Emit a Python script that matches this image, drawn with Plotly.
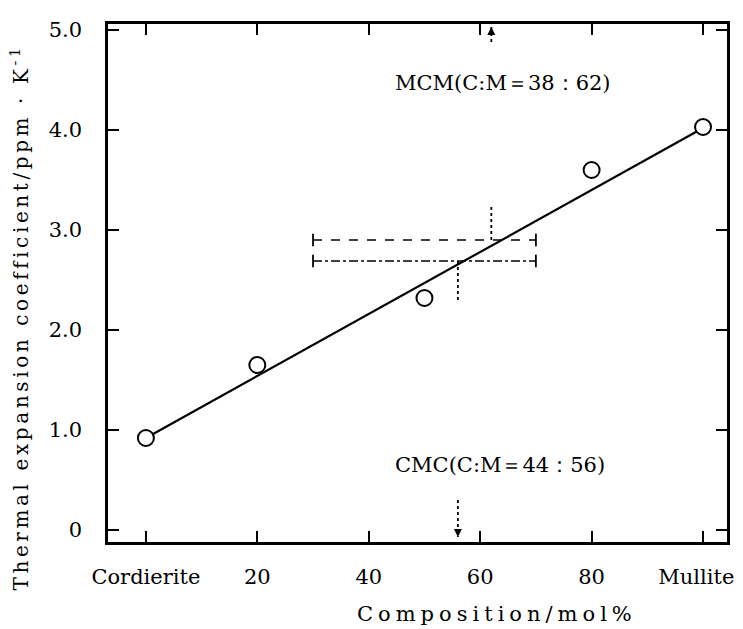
import plotly.graph_objects as go

# ---- data ----
composition = [0, 20, 50, 80, 100]
cte = [0.92, 1.65, 2.32, 3.60, 4.03]
fit_x = [0, 100]
fit_y = [0.92, 4.02]

x_tickvals = [0, 20, 40, 60, 80, 100]
x_ticktext = ["Cordierite", "20", "40", "60", "80", "Mullite" + "\u00a0" * 2]
y_tickvals = [0, 1, 2, 3, 4, 5]
y_ticktext = ["0", "1.0", "2.0", "3.0", "4.0", "5.0"]

mcm_range_x = [30, 70]
mcm_y = 2.90
cmc_range_x = [30, 70]
cmc_y = 2.69
mcm_x = 62
cmc_x = 56
mcm_marker_y = [2.90, 3.24]
cmc_marker_y = [2.69, 2.30]
mcm_arrow_y = [4.88, 5.03]
cmc_arrow_y = [0.30, -0.07]

FONT = "DejaVu Serif"
BLACK = "black"

fig = go.Figure()

# fitted line
fig.add_trace(go.Scatter(x=fit_x, y=fit_y, mode="lines",
                         line=dict(color=BLACK, width=2.2), showlegend=False))

# MCM bar (dashed) and CMC bar (dash-dot)
fig.add_trace(go.Scatter(x=mcm_range_x, y=[mcm_y, mcm_y], mode="lines+markers",
                         line=dict(color=BLACK, width=1.6, dash="dash"),
                         marker=dict(symbol="line-ns-open", size=9,
                                     line=dict(color=BLACK, width=1.8)),
                         showlegend=False))
fig.add_trace(go.Scatter(x=cmc_range_x, y=[cmc_y, cmc_y], mode="lines+markers",
                         line=dict(color=BLACK, width=1.6, dash="dashdot"),
                         marker=dict(symbol="line-ns-open", size=9,
                                     line=dict(color=BLACK, width=1.8)),
                         showlegend=False))

# vertical dotted markers
fig.add_trace(go.Scatter(x=[mcm_x, mcm_x], y=mcm_marker_y, mode="lines",
                         line=dict(color=BLACK, width=1.8, dash="dot"), showlegend=False))
fig.add_trace(go.Scatter(x=[cmc_x, cmc_x], y=cmc_marker_y, mode="lines",
                         line=dict(color=BLACK, width=1.8, dash="dot"), showlegend=False))

# arrows (dotted shafts + heads)
fig.add_trace(go.Scatter(x=[mcm_x, mcm_x], y=mcm_arrow_y, mode="lines",
                         line=dict(color=BLACK, width=1.8, dash="dot"), showlegend=False))
fig.add_trace(go.Scatter(x=[cmc_x, cmc_x], y=cmc_arrow_y, mode="lines",
                         line=dict(color=BLACK, width=1.8, dash="dot"), showlegend=False))
fig.add_trace(go.Scatter(x=[mcm_x], y=[mcm_arrow_y[1]], mode="markers",
                         marker=dict(symbol="arrow-up", size=8, color=BLACK), showlegend=False))
fig.add_trace(go.Scatter(x=[cmc_x], y=[cmc_arrow_y[1]], mode="markers",
                         marker=dict(symbol="arrow-down", size=8, color=BLACK), showlegend=False))

# data points
fig.add_trace(go.Scatter(x=composition, y=cte, mode="markers",
                         marker=dict(symbol="circle", size=16, color="white",
                                     line=dict(color=BLACK, width=2)),
                         showlegend=False))

fig.add_annotation(x=44.3, y=4.47, xref="x", yref="y", xanchor="left", yanchor="middle",
                   text="MCM(C:M＝38：62)", showarrow=False,
                   font=dict(family=FONT, size=21, color=BLACK))
fig.add_annotation(x=44.3, y=0.65, xref="x", yref="y", xanchor="left", yanchor="middle",
                   text="CMC(C:M＝44：56)", showarrow=False,
                   font=dict(family=FONT, size=21, color=BLACK))

# axis titles as annotations (positioned like the reference)
fig.add_annotation(x=63, y=0, xref="x", yref="paper", xanchor="center", yanchor="middle",
                   yshift=-72, text="Composition/mol%", showarrow=False,
                   font=dict(family=FONT, size=21, color=BLACK))
fig.add_annotation(x=0, y=2.12, xref="paper", yref="y", xanchor="center", yanchor="middle",
                   xshift=-88, textangle=-90,
                   text="Thermal expansion coefficient/ppm · K<sup>-1</sup>", showarrow=False,
                   font=dict(family=FONT, size=20, color=BLACK))

axis_common = dict(showline=True, linecolor=BLACK, linewidth=2.5, mirror="ticks",
                   ticks="inside", ticklen=11, tickwidth=2.2, tickcolor=BLACK,
                   showgrid=False, zeroline=False, ticklabeloverflow="allow",
                   automargin=False,
                   tickfont=dict(family=FONT, size=21, color=BLACK))

fig.update_xaxes(range=[-6.8, 104.3], tickvals=x_tickvals, ticktext=x_ticktext,
                 ticklabelstandoff=14, **axis_common)
fig.update_yaxes(range=[-0.12, 5.06], tickvals=y_tickvals, ticktext=y_ticktext,
                 ticklabelstandoff=19, **axis_common)

fig.update_layout(width=743, height=629, margin=dict(l=100, r=24, t=16, b=95),
                  plot_bgcolor="white", paper_bgcolor="white")

js = """
document.querySelectorAll('text.annotation-text').forEach(function(t){
  var s = t.textContent || '';
  if (s.indexOf('Composition') === 0) { t.style.letterSpacing = '5px'; }
  else if (s.indexOf('Thermal') === 0) { t.style.letterSpacing = '3.6px'; }
});
"""
fig.write_html("out.html", post_script=js)
